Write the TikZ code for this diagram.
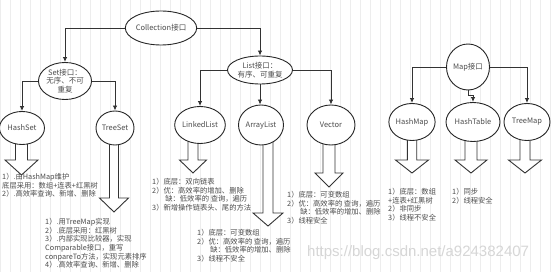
\documentclass[tikz,border=0pt]{standalone}
\usepackage{fontspec}
\newfontfamily\cjk{Noto Sans CJK SC}
\newfontfamily\wmfont{Liberation Sans}
\usetikzlibrary{shapes.geometric,arrows.meta}

\tikzset{
  jiekou/.style={ellipse, draw=black!85, fill=white, line width=0.9pt, inner sep=0pt, align=center, font=\cjk\fontsize{7.5}{8.6}\selectfont, text=black!70},
  lianxian/.style={draw=black!80, line width=0.9pt, -{Latex[length=5pt,width=4.5pt]}},
  shuoming/.style={anchor=north west, inner sep=0pt, align=left, font=\cjk\fontsize{7.3}{8.7}\selectfont, text=black!70},
  kongjiantou/.style={draw=black!80, fill=white, line width=0.9pt, line join=miter}
}

\begin{document}
\begin{tikzpicture}[x=1pt, y=-1pt]
        \useasboundingbox (0,0) rectangle (554,272);
        % 背景网格
        \fill[white] (0,0) rectangle (554,272);
        \draw[step=10, gray!14, line width=0.4pt] (0,0) grid (554,272);

        % 空心箭头（x/顶/箭头起点/尖/杆半宽/头半宽）
        \foreach \x/\a/\b/\c/\s/\w in {21.5/128/160/175/6/16.5, 114/128/198/212/4.5/14.5, 193/125/160/173/5/13.5, 268/125/213/226/5/15, 329/125/173/187/6/14, 412/122/160/173/4.7/16.5, 471/122/160/173/6/16, 525/122/160/173/5/16.5}
          \draw[kongjiantou] (\x-\s,\a) -- (\x-\s,\b) -- (\x-\w,\b) -- (\x,\c) -- (\x+\w,\b) -- (\x+\s,\b) -- (\x+\s,\a) -- cycle;

        % 接口
        \node[jiekou, minimum width=63pt, minimum height=34pt] (coll) at (161,28) {Collection接口};
        \node[jiekou, minimum width=51pt, minimum height=37pt] (set) at (65,81) {Set接口：\\无序、不可\\重复};
        \node[jiekou, minimum width=65pt, minimum height=28pt] (list) at (260,70) {List接口：\\有序、可重复};
        \node[jiekou, minimum width=43pt, minimum height=46pt] (map) at (468,67) {Map接口};

        % 实现类
        \node[jiekou, minimum width=45pt, minimum height=33pt] (hset) at (22,128) {HashSet};
        \node[jiekou, minimum width=38pt, minimum height=34pt] (tset) at (115,128) {TreeSet};
        \node[jiekou, minimum width=46pt, minimum height=37pt] (llist) at (200,125) {LinkedList};
        \node[jiekou, minimum width=45pt, minimum height=40pt] (alist) at (261,125) {ArrayList};
        \node[jiekou, minimum width=48pt, minimum height=40pt] (vec) at (331,125) {Vector};
        \node[jiekou, minimum width=45pt, minimum height=37pt] (hmap) at (412,122) {HashMap};
        \node[jiekou, minimum width=54pt, minimum height=39pt] (htable) at (473,122) {HashTable};
        \node[jiekou, minimum width=46pt, minimum height=37pt] (tmap) at (527,122) {TreeMap};

        % 连线
        \draw[lianxian] (coll.west) -| (set.north);
        \draw[lianxian] (coll.east) -| (list.north);
        \draw[lianxian] (set.west) -| (hset.north);
        \draw[lianxian] (set.east) -| (tset.north);
        \draw[lianxian] (list.west) -| (llist.north);
        \draw[lianxian] (list.south) -- (list.south |- alist.north);
        \draw[lianxian] (list.east) -| (vec.north);
        \draw[lianxian] (map.west) -| (hmap.north);
        \draw[lianxian] (map.south) -- ++(0,5) -| (htable.north);
        \draw[lianxian] (map.east) -| (tmap.north);

        % 说明文字
        \node[shuoming] (hsetshuo) at (2,173) {1）.由HashMap维护\\底层采用：数组+连表+红黑树\\2）.高效率查询、新增、删除};
        \node[shuoming] (tsetshuo) at (45,218) {1）.用TreeMap实现\\2）.底层采用：红黑树\\3）.内部实现比较器，实现\\Comparable接口，重写\\conpareTo方法，实现元素排序\\4）.高效率查询、新增、删除};
        \node[shuoming] (llistshuo) at (152,178) {1）底层：双向链表\\2）优：高效率的增加、删除\\\hspace*{1.8em}缺：低效率的 查询，遍历\\3）新增操作链表头、尾的方法};
        \node[shuoming] (alistshuo) at (197,229) {1）底层：可变数组\\2）优：高效率的 查询，遍历\\\hspace*{1.8em}缺：低效率的增加、删除\\3）线程不安全};
        \node[shuoming] (vecshuo) at (287,191) {1）底层：可变数组\\2）优：高效率的 查询，遍历\\\hspace*{1.8em}缺：低效率的增加、删除\\3）线程安全};
        \node[shuoming] (hmapshuo) at (388,188) {1）底层：数组\\+连表+红黑树\\2）非同步\\3）线程不安全};
        \node[shuoming] (htableshuo) at (452,188) {1）同步\\2）线程安全};

        % 水印
        \node[anchor=west, inner sep=0pt, font=\wmfont\fontsize{15}{15}\selectfont, text=black!16] (shuiyin) at (307,253) {https://blog.csdn.net/a924382407};
    \end{tikzpicture}
\end{document}
